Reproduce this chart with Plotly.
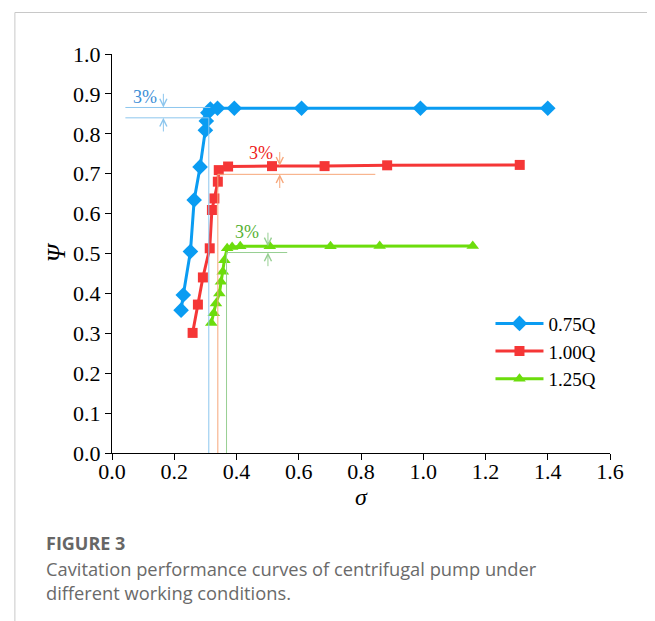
import plotly.graph_objects as go

# ---- data ----
series_names = ["0.75Q", "1.00Q", "1.25Q"]
sigma_075 = [0.222, 0.229, 0.252, 0.264, 0.283, 0.300, 0.303, 0.308, 0.316, 0.339, 0.393, 0.609, 0.991, 1.40]
psi_075 = [0.358, 0.396, 0.505, 0.634, 0.717, 0.809, 0.832, 0.853, 0.862, 0.864, 0.864, 0.864, 0.864, 0.864]
sigma_100 = [0.259, 0.276, 0.292, 0.314, 0.321, 0.329, 0.340, 0.343, 0.373, 0.514, 0.683, 0.884, 1.31]
psi_100 = [0.301, 0.372, 0.440, 0.513, 0.609, 0.638, 0.680, 0.709, 0.718, 0.719, 0.719, 0.721, 0.722]
sigma_125 = [0.319, 0.327, 0.334, 0.345, 0.350, 0.356, 0.361, 0.370, 0.386, 0.412, 0.507, 0.702, 0.860, 1.159]
psi_125 = [0.326, 0.350, 0.375, 0.400, 0.429, 0.454, 0.483, 0.513, 0.516, 0.518, 0.518, 0.518, 0.519, 0.519]

# 3% head-drop reference values
ref_level = [0.866, 0.720, 0.518]          # plateau head coefficient
drop_fraction = 0.03
critical_sigma = [0.311, 0.340, 0.368]     # critical cavitation number
ref_line_end = [0.316, 0.846, 0.563]       # where the 3%-drop line ends on the right
arrow_sigma = [0.165, 0.539, 0.501]
label_pos = [(0.107, 0.892), (0.480, 0.752), (0.434, 0.553)]
label_text = "3%"

x_ticks = [0.0, 0.2, 0.4, 0.6, 0.8, 1.0, 1.2, 1.4, 1.6]
y_ticks = [0.0, 0.1, 0.2, 0.3, 0.4, 0.5, 0.6, 0.7, 0.8, 0.9, 1.0]

caption_title = "FIGURE 3"
caption_text = ["Cavitation performance curves of centrifugal pump under",
                "different working conditions."]

# ---- styles ----
colors = ["#0A9CF2", "#F53636", "#6CDD0C"]
ref_colors = ["#8CC6EE", "#F7A679", "#97CF92"]
text_colors = ["#3C8ED6", "#EE2020", "#56B132"]
symbols = ["diamond", "square", "triangle-up"]
msizes = [12, 10, 11]
serif = "Liberation Serif, Times New Roman, serif"

fig = go.Figure()
for name, xs, ys, c, s, ms in zip(series_names, [sigma_075, sigma_100, sigma_125],
                                   [psi_075, psi_100, psi_125], colors, symbols, msizes):
    fig.add_trace(go.Scatter(x=xs, y=ys, mode="lines+markers", name=name,
                             line=dict(color=c, width=3),
                             marker=dict(symbol=s, size=ms, color=c)))

shapes = []
annotations = []
arrow_len = 0.038
for i in range(3):
    top = ref_level[i]
    low = top * (1 - drop_fraction)
    rc = ref_colors[i]
    shapes.append(dict(type="line", xref="x", yref="y", x0=critical_sigma[i], x1=critical_sigma[i],
                       y0=0, y1=low, line=dict(color=rc, width=1)))
    if i == 0:
        shapes.append(dict(type="line", xref="x", yref="y", x0=0.043, x1=ref_line_end[i],
                           y0=top, y1=top, line=dict(color=rc, width=1)))
        shapes.append(dict(type="line", xref="x", yref="y", x0=0.043, x1=critical_sigma[i],
                           y0=low, y1=low, line=dict(color=rc, width=1)))
    else:
        shapes.append(dict(type="line", xref="x", yref="y", x0=critical_sigma[i], x1=ref_line_end[i],
                           y0=low, y1=low, line=dict(color=rc, width=1)))
    annotations.append(dict(x=arrow_sigma[i], y=top, ax=arrow_sigma[i], ay=top + arrow_len,
                            xref="x", yref="y", axref="x", ayref="y", text="", showarrow=True,
                            arrowhead=5, arrowsize=1.4, arrowwidth=1, arrowcolor=rc))
    annotations.append(dict(x=arrow_sigma[i], y=low, ax=arrow_sigma[i], ay=low - arrow_len,
                            xref="x", yref="y", axref="x", ayref="y", text="", showarrow=True,
                            arrowhead=5, arrowsize=1.4, arrowwidth=1, arrowcolor=rc))
    annotations.append(dict(x=label_pos[i][0], y=label_pos[i][1], xref="x", yref="y",
                            text=label_text, showarrow=False,
                            font=dict(family=serif, size=18, color=text_colors[i])))

# page frame lines
shapes.append(dict(type="line", xref="paper", yref="paper", x0=-0.195, x1=1.2, y0=1.104, y1=1.104,
                   line=dict(color="#C8C8C8", width=1)))
shapes.append(dict(type="line", xref="paper", yref="paper", x0=-0.195, x1=-0.195, y0=1.104, y1=-0.5,
                   line=dict(color="#C8C8C8", width=1)))

# caption
annotations.append(dict(x=-0.136, y=-0.226, xref="paper", yref="paper", xanchor="left", yanchor="middle",
                        text="<b>" + caption_title + "</b>", showarrow=False,
                        font=dict(family="Open Sans", size=18, color="#666666")))
for k, line in enumerate(caption_text):
    annotations.append(dict(x=-0.136, y=-0.289 - 0.06 * k, xref="paper", yref="paper",
                            xanchor="left", yanchor="middle", text=line, showarrow=False,
                            font=dict(family="Open Sans", size=18.3, color="#6A6A6A")))

fig.update_layout(
    width=655, height=621,
    margin=dict(l=104, r=53, t=46, b=176, pad=0),
    paper_bgcolor="white", plot_bgcolor="white",
    font=dict(family=serif, size=22, color="black"),
    showlegend=True,
    legend=dict(x=0.76, y=0.372, xanchor="left", yanchor="top", bgcolor="rgba(0,0,0,0)",
                font=dict(family=serif, size=19, color="black"), itemwidth=48,
                tracegroupgap=0),
    shapes=shapes, annotations=annotations,
)
fig.update_xaxes(range=[0, 1.6], tickvals=x_ticks, ticktext=[f"{v:.1f}" for v in x_ticks],
                 showline=True, linecolor="black", linewidth=1, ticks="outside", ticklen=6,
                 tickcolor="black", showgrid=False, zeroline=False, ticklabelstandoff=-7,
                 title=dict(text="<i>σ</i>", font=dict(family=serif, size=24), standoff=0))
fig.update_yaxes(range=[0, 1.0], tickvals=y_ticks, ticktext=[f"{v:.1f}" for v in y_ticks],
                 showline=True, linecolor="black", linewidth=1, ticks="outside", ticklen=6,
                 tickcolor="black", showgrid=False, zeroline=False,
                 title=dict(text="<i>Ψ</i>", font=dict(family=serif, size=25), standoff=0))

fig.write_html("out.html")
